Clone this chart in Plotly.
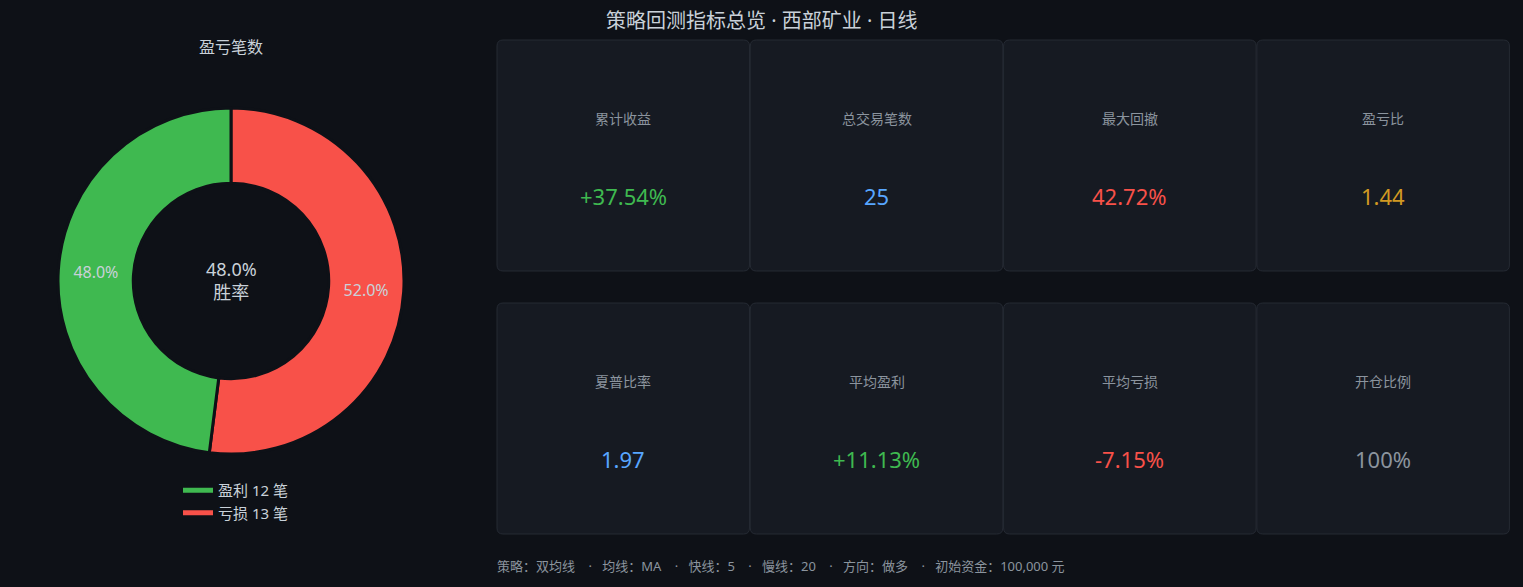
#!/usr/bin/env python3
"""Backtest summary card — win/loss donut + metric tiles."""

import plotly.graph_objects as go

# ── Data ──────────────────────────────────────────────────────────────────

TITLE = "策略回测指标总览 · 西部矿业 · 日线"

PIE_TITLE = "盈亏笔数"
PIE_LABELS = ["盈利 12 笔", "亏损 13 笔"]
PIE_COUNTS = [12, 13]

METRIC_NAMES = ["累计收益", "总交易笔数", "最大回撤", "盈亏比",
                "夏普比率", "平均盈利", "平均亏损", "开仓比例"]
METRIC_VALUES = ["+37.54%", "25", "42.72%", "1.44",
                 "1.97", "+11.13%", "-7.15%", "100%"]
METRIC_TONES = ["up", "info", "down", "warn",
                "info", "up", "down", "muted"]

PARAM_KEYS = ["策略", "均线", "快线", "慢线", "方向", "初始资金"]
PARAM_VALUES = ["双均线", "MA", "5", "20", "做多", "100,000 元"]

# ── Style ─────────────────────────────────────────────────────────────────

W, H = 1523, 587
BG = "#0e1117"
CARD_BG = "#161a22"
CARD_EDGE = "#252a33"
TEXT = "#c9d1d9"
MUTED = "#8b949e"
GREEN = "#3fb950"
RED = "#f85149"
TONES = {"up": GREEN, "down": RED, "info": "#58a6ff",
         "warn": "#d29922", "muted": MUTED}
FONT = "Noto Sans, Noto Sans CJK SC, sans-serif"
NB = "\u00a0"


def rounded_rect(x0, y0, x1, y1, r=6):
    return (f"M{x0 + r},{y0} L{x1 - r},{y0} Q{x1},{y0} {x1},{y0 + r} "
            f"L{x1},{y1 - r} Q{x1},{y1} {x1 - r},{y1} "
            f"L{x0 + r},{y1} Q{x0},{y1} {x0},{y1 - r} "
            f"L{x0},{y0 + r} Q{x0},{y0} {x0 + r},{y0} Z")


def build() -> go.Figure:
    fig = go.Figure()

    # ── donut ─────────────────────────────────────────────────────────────
    # plotly's counterclockwise puts the first slice right of 12 o'clock,
    # so feed the losses first to get wins on the left
    colors = [GREEN, RED]
    fig.add_trace(go.Pie(
        labels=PIE_LABELS[::-1], values=PIE_COUNTS[::-1],
        hole=0.565, sort=False, direction="counterclockwise",
        marker=dict(colors=colors[::-1], line=dict(color=BG, width=3)),
        texttemplate="%{percent:.1%}",
        textposition="inside", insidetextorientation="horizontal",
        textfont=dict(size=16, color=TEXT),
        domain=dict(x=[58 / W, 404 / W], y=[1 - 454 / H, 1 - 108 / H]),
        showlegend=False,
    ))
    # legend swatches
    for lab, col in zip(PIE_LABELS, colors):
        fig.add_trace(go.Scatter(x=[None], y=[None], mode="lines", name=lab,
                                 line=dict(color=col, width=5)))
    win_rate = PIE_COUNTS[0] / sum(PIE_COUNTS)

    ann = [
        dict(x=231, y=47, text=PIE_TITLE, font=dict(size=16, color=TEXT)),
        dict(x=231, y=280, text=f"{win_rate:.1%}<br>胜率",
             font=dict(size=18, color=TEXT)),
        dict(x=762, y=20, text=TITLE, font=dict(size=20, color=TEXT)),
    ]

    # ── metric tiles ──────────────────────────────────────────────────────
    shapes = []
    left, step, top = 497, 253.3, [40, 303]
    for i, (name, val, tone) in enumerate(zip(METRIC_NAMES, METRIC_VALUES, METRIC_TONES)):
        r, c = divmod(i, 4)
        x0 = left + c * step
        x1 = x0 + step - 0.8
        y0 = top[r]
        y1 = y0 + 231
        shapes.append(dict(type="path", path=rounded_rect(x0, y0, x1, y1),
                           xref="x", yref="y", fillcolor=CARD_BG,
                           line=dict(color=CARD_EDGE, width=1), layer="below"))
        cx = (x0 + x1) / 2
        ann.append(dict(x=cx, y=y0 + 78, text=name, font=dict(size=14, color=MUTED)))
        ann.append(dict(x=cx, y=y0 + 156, text=val, font=dict(size=22, color=TONES[tone])))

    sep = NB * 4 + "·" + NB * 3
    footer = sep.join(f"{k}：{v}" for k, v in zip(PARAM_KEYS, PARAM_VALUES))
    ann.append(dict(x=495, y=566, text=footer, xanchor="left",
                    font=dict(size=13, color=MUTED)))

    for a in ann:
        a.setdefault("xref", "x")
        a.setdefault("yref", "y")
        a.setdefault("showarrow", False)
        a.setdefault("xanchor", "center")
        a.setdefault("yanchor", "middle")

    fig.update_layout(
        width=W, height=H,
        margin=dict(l=0, r=0, t=0, b=0),
        paper_bgcolor=BG, plot_bgcolor=BG,
        font=dict(family=FONT, color=TEXT),
        xaxis=dict(range=[0, W], visible=False, fixedrange=True),
        yaxis=dict(range=[H, 0], visible=False, fixedrange=True),
        shapes=shapes, annotations=ann,
        legend=dict(x=178 / W, y=1 - 474 / H, xanchor="left", yanchor="top",
                    bgcolor="rgba(0,0,0,0)", font=dict(size=15, color=TEXT)),
    )
    return fig


if __name__ == "__main__":
    fig = build()
    fig.write_html("out.html", config={"displayModeBar": False},
                   post_script="document.body.style.margin='0';"
                               "document.body.style.background='#0e1117';")
